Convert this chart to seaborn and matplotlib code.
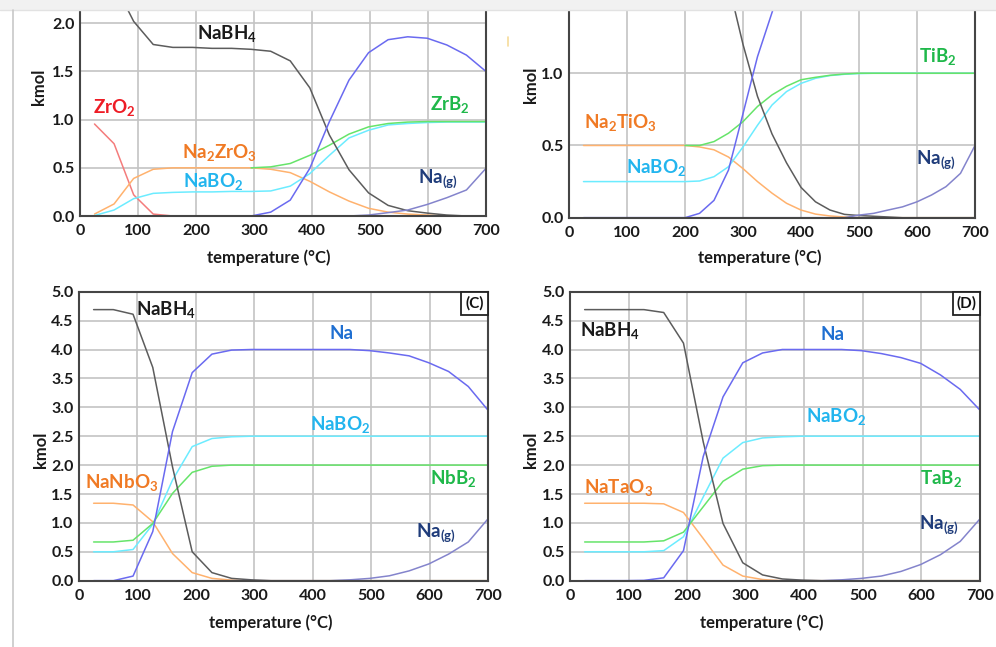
import numpy as np
import pandas as pd
import matplotlib
matplotlib.use("Agg")
import matplotlib.pyplot as plt
from matplotlib.patches import Rectangle
from matplotlib.lines import Line2D
import seaborn as sns

nan = np.nan
# ---------------- data ----------------
temps = [25, 58.75, 92.5, 126.25, 160, 193.75, 227.5, 261.25, 295, 328.75, 362.5,
         396.25, 430, 463.75, 497.5, 531.25, 565, 598.75, 632.5, 666.25, 700]
temps_b = [25, 50, 75, 100, 125, 150, 175, 200, 225, 250, 275, 300, 325, 350,
           375, 400, 425, 450, 475, 500, 525, 550, 575, 600, 625, 650, 675, 700]

# Panel A (ZrO2)
a_zro2 = [0.955, 0.75, 0.22, 0.02, 0, 0, 0, 0, 0, 0, 0, 0, 0, 0, 0, 0, 0, 0, 0, 0, 0]
a_na2zro3 = [0.02, 0.125, 0.39, 0.485, 0.5, 0.5, 0.5, 0.5, 0.5, 0.485, 0.45, 0.36, 0.25,
             0.155, 0.08, 0.04, 0.02, 0.01, 0, 0, 0]
a_nabo2 = [0.005, 0.062, 0.18, 0.235, 0.245, 0.25, 0.25, 0.255, 0.255, 0.26, 0.31, 0.44,
           0.63, 0.81, 0.89, 0.945, 0.96, 0.97, 0.975, 0.975, 0.975]
a_zrb2 = [nan, nan, nan, nan, nan, nan, nan, nan, 0.5, 0.51, 0.545, 0.63, 0.735, 0.85,
          0.925, 0.96, 0.975, 0.98, 0.98, 0.98, 0.98]
a_nabh4 = [2.5, 2.42, 2.02, 1.78, 1.75, 1.75, 1.74, 1.74, 1.73, 1.71, 1.61, 1.33, 0.84,
           0.48, 0.24, 0.11, 0.055, 0.03, 0.01, 0, 0]
a_na = [0, 0, 0, 0, 0, 0, 0, 0, 0, 0.04, 0.165, 0.495, 0.98, 1.41, 1.695, 1.83, 1.86,
        1.845, 1.775, 1.67, 1.5]
a_nag = [0, 0, 0, 0, 0, 0, 0, 0, 0, 0, 0, 0, 0, 0, 0.01, 0.035, 0.062, 0.12, 0.19, 0.27, 0.495]

# Panel B (TiO2)
b_na2tio3 = [0.5, 0.5, 0.5, 0.5, 0.5, 0.5, 0.5, 0.5, 0.49, 0.47, 0.42, 0.34, 0.25, 0.17,
             0.10, 0.053, 0.025, 0.012, 0.005, 0, 0, 0, 0, 0, 0, 0, 0, 0]
b_nabo2 = [0.25, 0.25, 0.25, 0.25, 0.25, 0.25, 0.25, 0.25, 0.254, 0.284, 0.353, 0.49, 0.64,
           0.78, 0.873, 0.93, 0.965, 0.984, 0.993, 0.998, 1.0, 1.0, 1.0, 1.0, 1.0, 1.0, 1.0, 1.0]
b_tib2 = [nan, nan, nan, nan, nan, nan, nan, 0.5, 0.5, 0.527, 0.585, 0.665, 0.77, 0.85,
          0.91, 0.955, 0.972, 0.986, 0.995, 1.0, 1.0, 1.0, 1.0, 1.0, 1.0, 1.0, 1.0, 1.0]
b_nabh4 = [2.6, 2.6, 2.6, 2.6, 2.6, 2.6, 2.6, 2.6, 2.5, 2.1, 1.62, 1.2, 0.84, 0.58, 0.38,
           0.21, 0.11, 0.053, 0.023, 0.015, 0.01, 0.005, 0, 0, 0, 0, 0, 0]
b_na = [0, 0, 0, 0, 0, 0, 0, 0, 0.03, 0.12, 0.33, 0.72, 1.115, 1.42, 1.72, 1.9, 1.97, 1.99,
        2.0, 2.0, 2.0, 2.0, 2.0, 2.0, 1.98, 1.95, 1.88, 1.8]
b_nag = [0, 0, 0, 0, 0, 0, 0, 0, 0, 0, 0, 0, 0, 0, 0, 0, 0, 0, 0, 0.018, 0.03, 0.053, 0.075,
         0.11, 0.157, 0.215, 0.307, 0.5]

# Panel C (Nb2O5)
c_nanbo3 = [1.34, 1.34, 1.31, 1.02, 0.47, 0.14, 0.04, 0.01, 0, 0, 0, 0, 0, 0, 0, 0, 0, 0, 0, 0, 0]
c_nabo2 = [0.5, 0.5, 0.54, 0.975, 1.74, 2.32, 2.46, 2.49, 2.5, 2.5, 2.5, 2.5, 2.5, 2.5, 2.5,
           2.5, 2.5, 2.5, 2.5, 2.5, 2.5]
c_nbb2 = [0.67, 0.67, 0.70, 0.99, 1.51, 1.875, 1.98, 2.0, 2.0, 2.0, 2.0, 2.0, 2.0, 2.0, 2.0,
          2.0, 2.0, 2.0, 2.0, 2.0, 2.0]
c_nabh4 = [4.69, 4.69, 4.61, 3.69, 1.97, 0.50, 0.14, 0.04, 0.015, 0, 0, 0, 0, 0, 0, 0, 0, 0, 0, 0, 0]
c_na = [0, 0, 0.08, 0.85, 2.58, 3.6, 3.92, 3.99, 4.0, 4.0, 4.0, 4.0, 4.0, 4.0, 3.98, 3.94,
        3.89, 3.77, 3.62, 3.36, 2.95]
c_nag = [0, 0, 0, 0, 0, 0, 0, 0, 0, 0, 0, 0, 0, 0.015, 0.04, 0.085, 0.17, 0.29, 0.46, 0.67, 1.07]

# Panel D (Ta2O5)
d_other = [0, 0, 0, 0, 0, 0, 0, 0, 0, 0, 0, 0, 0, 0, 0, 0, 0, 0, 0, 0, 0]
d_natao3 = [1.34, 1.34, 1.34, 1.34, 1.33, 1.18, 0.73, 0.27, 0.08, 0.02, 0, 0, 0, 0, 0, 0, 0,
            0, 0, 0, 0]
d_nabo2 = [0.5, 0.5, 0.5, 0.5, 0.52, 0.76, 1.45, 2.12, 2.39, 2.47, 2.49, 2.5, 2.5, 2.5, 2.5,
           2.5, 2.5, 2.5, 2.5, 2.5, 2.5]
d_tab2 = [0.67, 0.67, 0.67, 0.67, 0.69, 0.84, 1.28, 1.72, 1.93, 1.99, 2.0, 2.0, 2.0, 2.0, 2.0,
          2.0, 2.0, 2.0, 2.0, 2.0, 2.0]
d_nabh4 = [4.69, 4.69, 4.69, 4.69, 4.64, 4.11, 2.4, 0.99, 0.31, 0.10, 0.03, 0.01, 0, 0, 0, 0,
           0, 0, 0, 0, 0]
d_na = [0, 0, 0, 0.005, 0.05, 0.52, 2.15, 3.18, 3.77, 3.94, 4.0, 4.0, 4.0, 4.0, 3.98, 3.93,
        3.86, 3.76, 3.56, 3.31, 2.95]
d_nag = [0, 0, 0, 0, 0, 0, 0, 0, 0, 0, 0, 0, 0, 0.015, 0.04, 0.08, 0.16, 0.28, 0.45, 0.68, 1.07]

xticks = [0, 100, 200, 300, 400, 500, 600, 700]

# ---------------- style ----------------
sns.set_theme(style="white")
plt.rcParams["font.family"] = ["Lato", "DejaVu Sans"]
plt.rcParams["mathtext.fontset"] = "custom"
plt.rcParams["mathtext.rm"] = "Lato:bold"
plt.rcParams["mathtext.bf"] = "Lato:bold"
plt.rcParams["mathtext.it"] = "Lato:bold:italic"
plt.rcParams["mathtext.default"] = "rm"

LINE = {"gray": "#5c5c5c", "red": "#f47c7c", "orange": "#ffb26e", "cyan": "#6cecff",
        "green": "#66e46a", "blue": "#6a6af0", "navy": "#8484cc", "magenta": "#c040d0"}
LAB = {"gray": "#1a1a1a", "red": "#ee1c25", "orange": "#f07a24", "cyan": "#22b5ee",
       "green": "#1fb84a", "blue": "#1f6fd1", "navy": "#1f3c7a"}

TICK_FS = 11.5
AXLAB_FS = 12
SPEC_FS = 13.5

fig = plt.figure(figsize=(9.96, 6.47), dpi=100)
fig.patch.set_facecolor("white")


def make_panel(rect, T, series, ylim, yticks, ylabel_pos, xlabel_pos, top_spine):
    ax = fig.add_axes(rect)
    rows = []
    for name, color, vals in series:
        for t, v in zip(T, vals):
            rows.append((t, v, name))
    df = pd.DataFrame(rows, columns=["T", "kmol", "species"]).dropna()
    order = [s[0] for s in series]
    pal = {s[0]: s[1] for s in series}
    sns.lineplot(data=df, x="T", y="kmol", hue="species", hue_order=order, palette=pal,
                 estimator=None, sort=False, legend=False, linewidth=1.1, ax=ax)
    ax.set_xlim(0, 700)
    ax.set_ylim(*ylim)
    ax.set_xticks(xticks)
    ax.set_yticks(yticks)
    ax.set_yticklabels([f"{v:.1f}" for v in yticks])
    ax.grid(True, color="#c4c4c4", linewidth=1.2)
    ax.set_axisbelow(True)
    for sp in ax.spines.values():
        sp.set_color("#454545")
        sp.set_linewidth(1.5)
    ax.spines["top"].set_visible(top_spine)
    ax.tick_params(length=0, labelsize=TICK_FS, labelcolor="#1a1a1a")
    ax.tick_params(axis="x", pad=6)
    ax.tick_params(axis="y", pad=4)
    for lab in ax.get_xticklabels() + ax.get_yticklabels():
        lab.set_fontweight("bold")
    ax.set_xlabel("temperature (°C)", fontsize=AXLAB_FS, fontweight="bold", color="#1a1a1a")
    ax.set_ylabel("kmol", fontsize=AXLAB_FS, fontweight="bold", color="#1a1a1a")
    ax.xaxis.set_label_coords(*xlabel_pos)
    ax.xaxis.label.set_va("center")
    ax.yaxis.set_label_coords(*ylabel_pos)
    ax.yaxis.label.set_va("center")
    return ax


def label(ax, x, y, s, c):
    ax.text(x, y, s, color=LAB[c], fontsize=SPEC_FS, fontweight="bold", ha="left",
            va="baseline", zorder=5)


def tag(ax, s, w, h):
    ax.add_patch(Rectangle((1 - w, 1 - h), w, h, transform=ax.transAxes, facecolor="white",
                           edgecolor="#222222", linewidth=1.3, zorder=6, clip_on=False))
    ax.text(1 - w / 2, 1 - h / 2, s, transform=ax.transAxes, ha="center", va="center",
            fontsize=11, fontweight="bold", color="#111111", zorder=7)


# Panel A
axA = make_panel([80 / 996, 1 - 216 / 647, 406 / 996, 206 / 647], temps,
                 [("ZrO2", LINE["red"], a_zro2), ("Na2ZrO3", LINE["orange"], a_na2zro3),
                  ("NaBO2", LINE["cyan"], a_nabo2), ("ZrB2", LINE["green"], a_zrb2),
                  ("NaBH4", LINE["gray"], a_nabh4), ("Na", LINE["blue"], a_na),
                  ("Na(g)", LINE["navy"], a_nag)],
                 (0, 2.138), [0, 0.5, 1.0, 1.5, 2.0], (-0.101, 0.626), (0.464, -0.204), False)
label(axA, 202, 1.834, r"NaBH$_4$", "gray")
label(axA, 22, 1.07, r"ZrO$_2$", "red")
label(axA, 175, 0.60, r"Na$_2$ZrO$_3$", "orange")
label(axA, 178, 0.30, r"NaBO$_2$", "cyan")
label(axA, 603, 1.10, r"ZrB$_2$", "green")
label(axA, 583, 0.34, r"Na$_{(g)}$", "navy")

# Panel B
axB = make_panel([569 / 996, 1 - 217.7 / 647, 406 / 996, 207.7 / 647], temps_b,
                 [("Na2TiO3", LINE["orange"], b_na2tio3), ("NaBO2", LINE["cyan"], b_nabo2),
                  ("TiB2", LINE["green"], b_tib2), ("NaBH4", LINE["gray"], b_nabh4),
                  ("Na", LINE["blue"], b_na), ("Na(g)", LINE["navy"], b_nag)],
                 (0, 1.438), [0, 0.5, 1.0], (-0.094, 0.639), (0.470, -0.194), False)
label(axB, 25, 0.62, r"Na$_2$TiO$_3$", "orange")
label(axB, 98, 0.31, r"NaBO$_2$", "cyan")
label(axB, 604, 1.08, r"TiB$_2$", "green")
label(axB, 599, 0.376, r"Na$_{(g)}$", "navy")

yt5 = [0, 0.5, 1.0, 1.5, 2.0, 2.5, 3.0, 3.5, 4.0, 4.5, 5.0]
# Panel C
axC = make_panel([79 / 996, 1 - 580.7 / 647, 409 / 996, 289 / 647], temps,
                 [("NaNbO3", LINE["orange"], c_nanbo3), ("NaBO2", LINE["cyan"], c_nabo2),
                  ("NbB2", LINE["green"], c_nbb2), ("NaBH4", LINE["gray"], c_nabh4),
                  ("Na", LINE["blue"], c_na), ("Na(g)", LINE["navy"], c_nag)],
                 (0, 5.0), yt5, (-0.093, 0.452), (0.469, -0.145), True)
label(axC, 98, 4.6, r"NaBH$_4$", "gray")
label(axC, 429, 4.18, "Na", "blue")
label(axC, 395, 2.61, r"NaBO$_2$", "cyan")
label(axC, 600, 1.68, r"NbB$_2$", "green")
label(axC, 10, 1.61, r"NaNbO$_3$", "orange")
label(axC, 576, 0.75, r"Na$_{(g)}$", "navy")
tag(axC, "(C)", 27 / 409, 23 / 289)

# Panel D
axD = make_panel([570 / 996, 1 - 580.7 / 647, 410 / 996, 289 / 647], temps,
                 [("NaTaO3", LINE["orange"], d_natao3), ("NaBO2", LINE["cyan"], d_nabo2),
                  ("TaB2", LINE["green"], d_tab2), ("NaBH4", LINE["gray"], d_nabh4),
                  ("Na", LINE["blue"], d_na), ("Na(g)", LINE["navy"], d_nag),
                  ("other", LINE["magenta"], d_other)],
                 (0, 5.0), yt5, (-0.094, 0.452), (0.468, -0.147), True)
label(axD, 17, 4.23, r"NaBH$_4$", "gray")
label(axD, 427, 4.16, "Na", "blue")
label(axD, 403, 2.75, r"NaBO$_2$", "cyan")
label(axD, 598, 1.67, r"TaB$_2$", "green")
label(axD, 24, 1.52, r"NaTaO$_3$", "orange")
label(axD, 596, 0.905, r"Na$_{(g)}$", "navy")
tag(axD, "(D)", 27 / 410, 23 / 289)

# screenshot frame details
fig.add_artist(Rectangle((0, 1 - 10 / 647), 1, 10 / 647, transform=fig.transFigure,
                         facecolor="#f1f1f1", edgecolor="none", zorder=20))
fig.add_artist(Line2D([0, 1], [1 - 10 / 647, 1 - 10 / 647], transform=fig.transFigure,
                      color="#e2e2e2", linewidth=1.0, zorder=21))
fig.add_artist(Line2D([13 / 996, 13 / 996], [0, 1 - 10 / 647], transform=fig.transFigure,
                      color="#c8c8c8", linewidth=1.2, zorder=21))
fig.add_artist(Line2D([508 / 996, 508 / 996], [1 - 37 / 647, 1 - 46 / 647],
                      transform=fig.transFigure, color="#f6dc9a", linewidth=1.2, zorder=21))

fig.savefig("out.png", dpi=100, facecolor="white")
